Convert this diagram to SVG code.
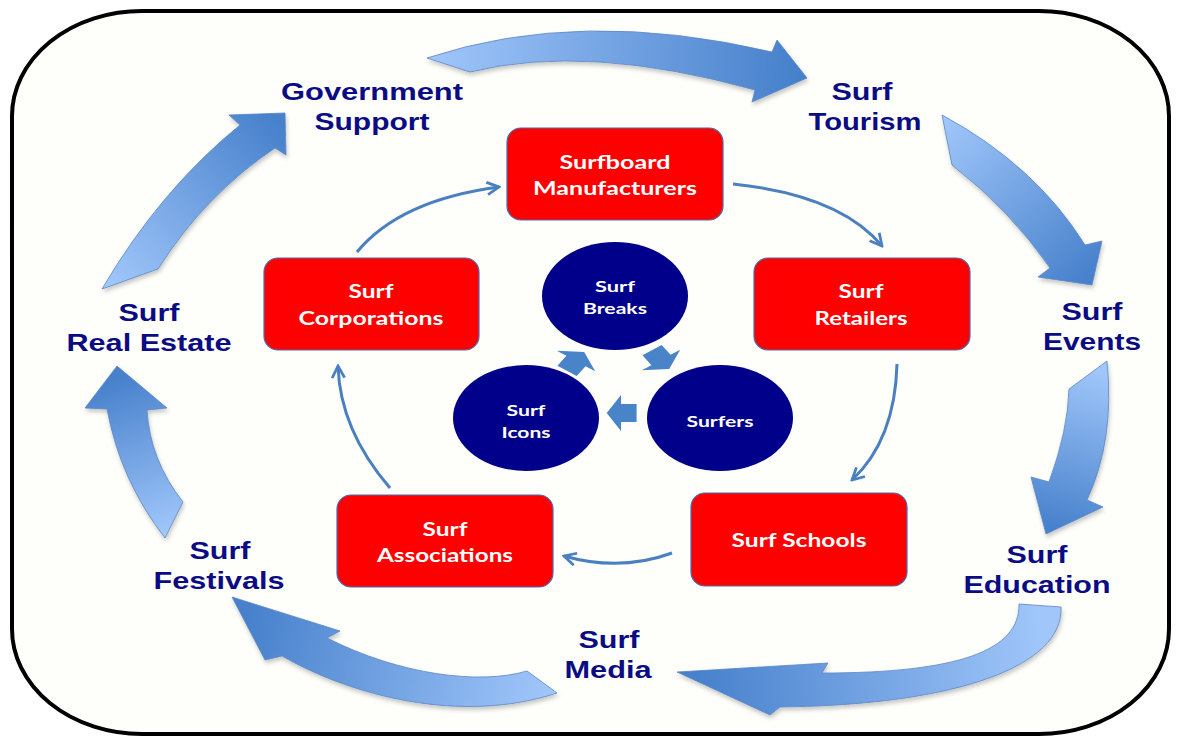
<svg xmlns="http://www.w3.org/2000/svg" width="1179" height="737" viewBox="0 0 1179 737">
  <style>
    .lbl { font-family: "Liberation Sans", Arial, sans-serif; font-weight: bold; font-size: 24px; fill: #0b0b84; text-anchor: middle; }
    .box { fill: #ff0000; stroke: #4a6cb0; stroke-width: 1.2; }
    .boxt { font-family: Lato, "Open Sans", "Liberation Sans", sans-serif; font-weight: bold; font-size: 18px; fill: #ffffff; text-anchor: middle; }
    .cir { fill: #00008b; }
    .cirt { font-family: Lato, "Open Sans", "Liberation Sans", sans-serif; font-weight: bold; font-size: 16px; fill: #ffffff; text-anchor: middle; }
    .thin { fill: none; stroke: #4a7fc0; stroke-width: 3; marker-end: url(#open); }
    .big { stroke: #5a86c4; stroke-width: 0.8; }
    .small { fill: #4a84c8; }
  </style>
  <defs>
    <marker id="open" markerUnits="userSpaceOnUse" markerWidth="15" markerHeight="15" viewBox="0 0 12 12" refX="10.5" refY="6" orient="auto">
      <path d="M1,1 L10.5,6 L1,11" fill="none" stroke="#4a7fc0" stroke-width="2.2" stroke-linejoin="miter"/>
    </marker>
    <filter id="shadow" x="-10%" y="-10%" width="120%" height="130%">
      <feDropShadow dx="1" dy="3" stdDeviation="2" flood-color="#000" flood-opacity="0.22"/>
    </filter>
    <linearGradient id="g1" gradientUnits="userSpaceOnUse" x1="430" y1="60" x2="800" y2="80">
      <stop offset="0" stop-color="#a0c6fa"/><stop offset="1" stop-color="#4680cb"/>
    </linearGradient>
    <linearGradient id="g2" gradientUnits="userSpaceOnUse" x1="945" y1="120" x2="1090" y2="280">
      <stop offset="0" stop-color="#a0c6fa"/><stop offset="1" stop-color="#4680cb"/>
    </linearGradient>
    <linearGradient id="g3" gradientUnits="userSpaceOnUse" x1="1095" y1="370" x2="1050" y2="530">
      <stop offset="0" stop-color="#a0c6fa"/><stop offset="1" stop-color="#4680cb"/>
    </linearGradient>
    <linearGradient id="g4" gradientUnits="userSpaceOnUse" x1="1040" y1="630" x2="690" y2="675">
      <stop offset="0" stop-color="#a0c6fa"/><stop offset="1" stop-color="#4680cb"/>
    </linearGradient>
    <linearGradient id="g5" gradientUnits="userSpaceOnUse" x1="550" y1="690" x2="245" y2="610">
      <stop offset="0" stop-color="#a0c6fa"/><stop offset="1" stop-color="#4680cb"/>
    </linearGradient>
    <linearGradient id="g6" gradientUnits="userSpaceOnUse" x1="172" y1="530" x2="117" y2="375">
      <stop offset="0" stop-color="#a0c6fa"/><stop offset="1" stop-color="#4680cb"/>
    </linearGradient>
    <linearGradient id="g7" gradientUnits="userSpaceOnUse" x1="110" y1="285" x2="280" y2="120">
      <stop offset="0" stop-color="#a0c6fa"/><stop offset="1" stop-color="#4680cb"/>
    </linearGradient>
    <path id="blk" d="M-12,-9 L0,-9 L0,-18 L11,0 L0,18 L0,9 L-12,9 Z"/>
  </defs>

  <rect width="1179" height="737" fill="#ffffff"/>
  <!-- frame -->
  <rect x="12" y="11" width="1157" height="723" rx="130" ry="105" fill="#fefefb" stroke="#000000" stroke-width="4"/>

  <g id="connectors">
    <!-- outer cycle: wide curved arrows -->
    <g filter="url(#shadow)">
      <path class="big" fill="url(#g1)" d="M427,58 Q580,7 772,52 L777,40 L807,78 L752,102 L755,90 Q587,43 470,72 Z"/>
      <path class="big" fill="url(#g2)" d="M942,115 Q1035,165 1085,245 L1102,241 L1092,285 L1038,277 L1050,268 Q1010,210 952,165 Z"/>
      <path class="big" fill="url(#g3)" d="M1107,361 Q1115,440 1087,500 L1103,507 L1046,534 L1031,477 L1049,482 Q1068,430 1069,389 Z"/>
      <path class="big" fill="url(#g4)" d="M1019,604 L1061,607 C1064,665 960,705 780,707 L770,715 L677,672 L828,663 L822,673 C960,673 1020,650 1019,604 Z"/>
      <path class="big" fill="url(#g5)" d="M557,693 L527,671 C480,685 400,675 327,638 L340,631 L232,597 L265,660 L282,656 C350,695 460,725 557,693 Z"/>
      <path class="big" fill="url(#g6)" d="M117,366 L167,408 L147,410 Q150,460 183,502 L165,538 Q120,480 107,409 L85,408 Z"/>
      <path class="big" fill="url(#g7)" d="M102,289 L158,269 Q205,195 275,148 L286,155 L285,113 L229,115 L240,125 Q160,190 102,289 Z"/>
    </g>
    <!-- inner ring: thin arrows between the red boxes -->
    <path class="thin" d="M357,252 Q400,200 499,187"/>
    <path class="thin" d="M733,184 Q840,195 882,246"/>
    <path class="thin" d="M897,364 Q895,440 852,480"/>
    <path class="thin" d="M672,553 Q620,572 564,556"/>
    <path class="thin" d="M390,488 Q340,430 338,366"/>
    <!-- centre cycle: small block arrows -->
    <use href="#blk" class="small" transform="translate(576 361) scale(1.3 1) rotate(-55)"/>
    <use href="#blk" class="small" transform="translate(661 360) scale(1.3 1) rotate(55)"/>
    <use href="#blk" class="small" transform="translate(621 413) scale(1.3 1) rotate(180)"/>
  </g>

  <!-- outer labels -->
  <g id="government-support">
    <text class="lbl" x="372" y="100" textLength="182" lengthAdjust="spacingAndGlyphs">Government</text>
    <text class="lbl" x="372" y="130" textLength="115" lengthAdjust="spacingAndGlyphs">Support</text>
  </g>
  <g id="surf-tourism">
    <text class="lbl" x="862" y="100" textLength="61" lengthAdjust="spacingAndGlyphs">Surf</text>
    <text class="lbl" x="865" y="130" textLength="113" lengthAdjust="spacingAndGlyphs">Tourism</text>
  </g>
  <g id="surf-events">
    <text class="lbl" x="1092" y="320" textLength="61" lengthAdjust="spacingAndGlyphs">Surf</text>
    <text class="lbl" x="1092" y="350" textLength="98" lengthAdjust="spacingAndGlyphs">Events</text>
  </g>
  <g id="surf-education">
    <text class="lbl" x="1037" y="563" textLength="61" lengthAdjust="spacingAndGlyphs">Surf</text>
    <text class="lbl" x="1037" y="593" textLength="147" lengthAdjust="spacingAndGlyphs">Education</text>
  </g>
  <g id="surf-media">
    <text class="lbl" x="609" y="648" textLength="61" lengthAdjust="spacingAndGlyphs">Surf</text>
    <text class="lbl" x="608" y="678" textLength="87" lengthAdjust="spacingAndGlyphs">Media</text>
  </g>
  <g id="surf-festivals">
    <text class="lbl" x="220" y="559" textLength="61" lengthAdjust="spacingAndGlyphs">Surf</text>
    <text class="lbl" x="219" y="589" textLength="131" lengthAdjust="spacingAndGlyphs">Festivals</text>
  </g>
  <g id="surf-real-estate">
    <text class="lbl" x="149" y="321" textLength="61" lengthAdjust="spacingAndGlyphs">Surf</text>
    <text class="lbl" x="149" y="351" textLength="165" lengthAdjust="spacingAndGlyphs">Real Estate</text>
  </g>

  <!-- red boxes -->
  <g id="surfboard-manufacturers">
    <rect class="box" x="507" y="128" width="216" height="92" rx="14"/>
    <text class="boxt" x="615" y="169" textLength="111" lengthAdjust="spacingAndGlyphs">Surfboard</text>
    <text class="boxt" x="615" y="195" textLength="164" lengthAdjust="spacingAndGlyphs">Manufacturers</text>
  </g>
  <g id="surf-retailers">
    <rect class="box" x="754" y="258" width="216" height="92" rx="14"/>
    <text class="boxt" x="861" y="298" textLength="45" lengthAdjust="spacingAndGlyphs">Surf</text>
    <text class="boxt" x="861" y="325" textLength="93" lengthAdjust="spacingAndGlyphs">Retailers</text>
  </g>
  <g id="surf-corporations">
    <rect class="box" x="264" y="258" width="215" height="92" rx="14"/>
    <text class="boxt" x="371" y="298" textLength="45" lengthAdjust="spacingAndGlyphs">Surf</text>
    <text class="boxt" x="371" y="325" textLength="145" lengthAdjust="spacingAndGlyphs">Corporations</text>
  </g>
  <g id="surf-schools">
    <rect class="box" x="691" y="493" width="216" height="93" rx="14"/>
    <text class="boxt" x="799" y="547" textLength="135" lengthAdjust="spacingAndGlyphs">Surf Schools</text>
  </g>
  <g id="surf-associations">
    <rect class="box" x="337" y="495" width="216" height="92" rx="14"/>
    <text class="boxt" x="445" y="536" textLength="45" lengthAdjust="spacingAndGlyphs">Surf</text>
    <text class="boxt" x="445" y="562" textLength="136" lengthAdjust="spacingAndGlyphs">Associations</text>
  </g>

  <!-- centre circles -->
  <g id="surf-breaks">
    <ellipse class="cir" cx="615" cy="296" rx="73" ry="54"/>
    <text class="cirt" x="615" y="292" textLength="40" lengthAdjust="spacingAndGlyphs">Surf</text>
    <text class="cirt" x="615" y="314" textLength="64" lengthAdjust="spacingAndGlyphs">Breaks</text>
  </g>
  <g id="surf-icons">
    <ellipse class="cir" cx="526" cy="418" rx="73" ry="53"/>
    <text class="cirt" x="526" y="416" textLength="39" lengthAdjust="spacingAndGlyphs">Surf</text>
    <text class="cirt" x="526" y="438" textLength="49" lengthAdjust="spacingAndGlyphs">Icons</text>
  </g>
  <g id="surfers">
    <ellipse class="cir" cx="720" cy="418" rx="73" ry="53"/>
    <text class="cirt" x="720" y="427" textLength="67" lengthAdjust="spacingAndGlyphs">Surfers</text>
  </g>
</svg>
